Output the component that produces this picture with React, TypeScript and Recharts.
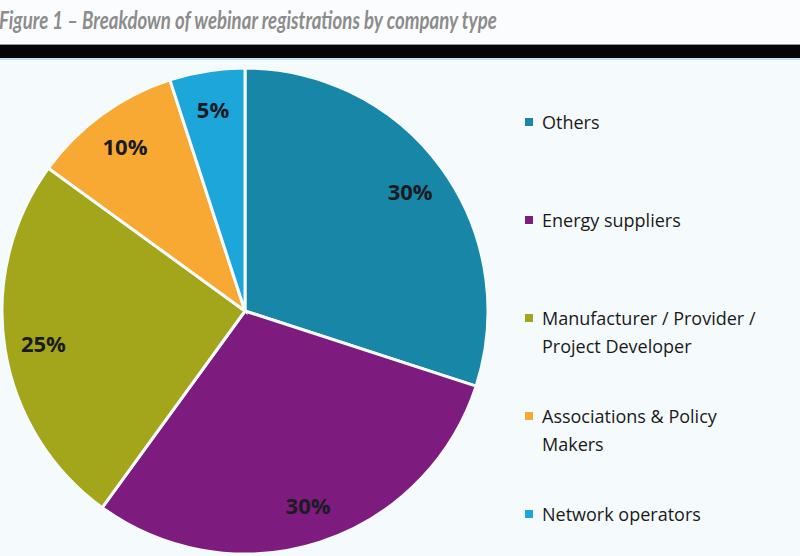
import React from "react";
import { PieChart, Pie, Cell, Legend } from "recharts";

// company types, in drawing order (clockwise from 12 o'clock)
const categories = [
  "Others",
  "Energy suppliers",
  "Manufacturer / Provider / Project Developer",
  "Associations & Policy Makers",
  "Network operators",
];
const shares = [30, 30, 25, 10, 5];
const colors = ["#1886a6", "#7d1b7f", "#a3a51a", "#f7a933", "#1ca6d9"];

const data = categories.map((name, i) => ({ name, value: shares[i] }));

const FONT = "'Open Sans', Lato, sans-serif";
const RAD = Math.PI / 180;

function renderLabel(props: any) {
  const { cx, cy, midAngle, outerRadius, value } = props;
  const r = outerRadius * 0.84;
  const x = cx + r * Math.cos(-midAngle * RAD);
  const y = cy + r * Math.sin(-midAngle * RAD);
  return (
    <text
      x={x}
      y={y}
      fill="#1b1b24"
      textAnchor="middle"
      dominantBaseline="central"
      fontFamily={FONT}
      fontWeight={700}
      fontSize={22}
    >
      {value}%
    </text>
  );
}

// legend keeps the data order (recharts would otherwise sort it)
function LegendList() {
  return (
    <div style={{ fontFamily: FONT, fontSize: 18, color: "#1a1a1a" }}>
      {categories.map((name, i) => (
        <div key={name} style={{ height: 98, display: "flex", alignItems: "flex-start" }}>
          <span
            style={{
              width: 8,
              height: 8,
              background: colors[i],
              marginTop: 10,
              marginRight: 9,
              flex: "none",
            }}
          />
          <span style={{ width: 225, lineHeight: "28px" }}>{name}</span>
        </div>
      ))}
    </div>
  );
}

export default function App() {
  return (
    <div style={{ position: "absolute", left: 0, top: 0, width: 800, height: 556, background: "#fbfcfd", overflow: "hidden" }}>
      <div style={{ height: 44, overflow: "hidden" }}>
        <span
          style={{
            display: "inline-block",
            fontFamily: "Lato, sans-serif",
            fontStyle: "italic",
            fontWeight: 700,
            fontSize: 25,
            color: "#8c8c8c",
            lineHeight: "38px",
            whiteSpace: "nowrap",
            transform: "scaleX(0.745)",
            transformOrigin: "left center",
            marginLeft: -1,
          }}
        >
          Figure 1 – Breakdown of webinar registrations by company type
        </span>
      </div>
      <div style={{ height: 1, background: "#9a9a9a" }} />
      <div style={{ height: 13, background: "#050508" }} />
      <div style={{ height: 2, background: "#bfe6f0" }} />
      <div style={{ background: "#f5fafc" }}>
        <PieChart width={800} height={496} margin={{ top: 0, right: 0, bottom: 0, left: 0 }}>
          <Pie
            data={data}
            dataKey="value"
            nameKey="name"
            cx={245}
            cy={251}
            outerRadius={243}
            startAngle={90}
            endAngle={-270}
            stroke="#f5fafc"
            strokeWidth={3}
            label={renderLabel}
            labelLine={false}
            isAnimationActive={false}
          >
            {data.map((d, i) => (
              <Cell key={d.name} fill={colors[i]} />
            ))}
          </Pie>
          <Legend
            layout="vertical"
            verticalAlign="top"
            align="right"
            content={<LegendList />}
            wrapperStyle={{ left: 525, top: 48, width: 275 }}
          />
        </PieChart>
      </div>
    </div>
  );
}
